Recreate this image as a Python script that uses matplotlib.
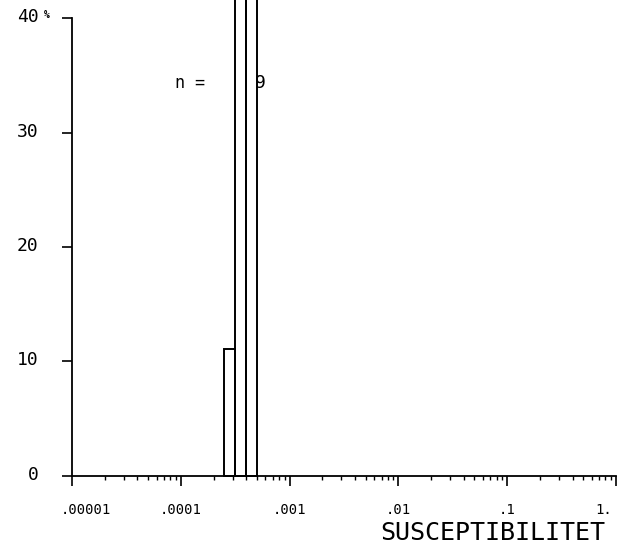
import numpy as np
import matplotlib.pyplot as plt
from matplotlib.ticker import FixedLocator, FixedFormatter, LogLocator, NullFormatter
from matplotlib.transforms import ScaledTranslation

plt.rcParams['font.family'] = ['DejaVu Sans Mono', 'DejaVu Sans']

# susceptibility classes (0.1 decade bins) and number of samples in each
bin_edges = [2.51e-4, 3.16e-4, 3.98e-4, 5.01e-4]
counts = [1, 4, 4]
n = 9
percent = [100.0 * c / n for c in counts]

x_ticks = [1e-5, 1e-4, 1e-3, 1e-2, 1e-1, 1.0]
x_tick_labels = ['.00001', '.0001', '.001', '.01', '.1', '1.']
y_ticks = [0, 10, 20, 30, 40]
y_tick_labels = ['0', '10', '20', '30', '40']

fig = plt.figure(figsize=(6.37, 5.54), dpi=100)
ax = fig.add_axes([0.113, 0.1408, 0.854, 0.8267])

ax.set_xscale('log')
ax.set_xlim(1e-5, 1)
ax.set_ylim(0, 40)

widths = np.diff(bin_edges)
ax.bar(bin_edges[:-1], percent, width=widths, align='edge', fill=False,
       edgecolor='black', linewidth=1.4, clip_on=False)

for side in ['top', 'right']:
    ax.spines[side].set_visible(False)
for side in ['left', 'bottom']:
    ax.spines[side].set_linewidth(1.3)

ax.xaxis.set_major_locator(FixedLocator(x_ticks))
ax.xaxis.set_major_formatter(FixedFormatter(x_tick_labels))
ax.xaxis.set_minor_locator(LogLocator(base=10, subs=np.arange(2, 10)))
ax.xaxis.set_minor_formatter(NullFormatter())
ax.yaxis.set_major_locator(FixedLocator(y_ticks))
ax.yaxis.set_major_formatter(FixedFormatter(y_tick_labels))

ax.tick_params(axis='x', which='major', direction='out', length=7.2, width=1.2,
               pad=12, labelsize=10)
ax.tick_params(axis='x', which='minor', direction='out', length=2.8, width=1.0)
ax.tick_params(axis='y', which='major', direction='out', length=7.2, width=1.2,
               pad=17, labelsize=13)

# nudge the end labels inward and lift the y labels a little
xlabels = ax.get_xticklabels()
xlabels[0].set_transform(xlabels[0].get_transform() + ScaledTranslation(0.14, 0, fig.dpi_scale_trans))
xlabels[-1].set_transform(xlabels[-1].get_transform() + ScaledTranslation(-0.12, 0, fig.dpi_scale_trans))
for lab in ax.get_yticklabels():
    lab.set_transform(lab.get_transform() + ScaledTranslation(0, 0.03, fig.dpi_scale_trans))

ax.text(-0.046, 1.007, '%', transform=ax.transAxes, fontsize=7,
        ha='center', va='center', fontweight='bold')

ax.text(0.189, 0.858, 'n =', transform=ax.transAxes, fontsize=12,
        ha='left', va='center')
ax.text(0.336, 0.858, str(n), transform=ax.transAxes, fontsize=13,
        ha='left', va='center')

fig.text(605 / 637, 14 / 554, 'SUSCEPTIBILITET', fontsize=18,
         ha='right', va='baseline')

fig.savefig('out.png', dpi=100, facecolor='white')
